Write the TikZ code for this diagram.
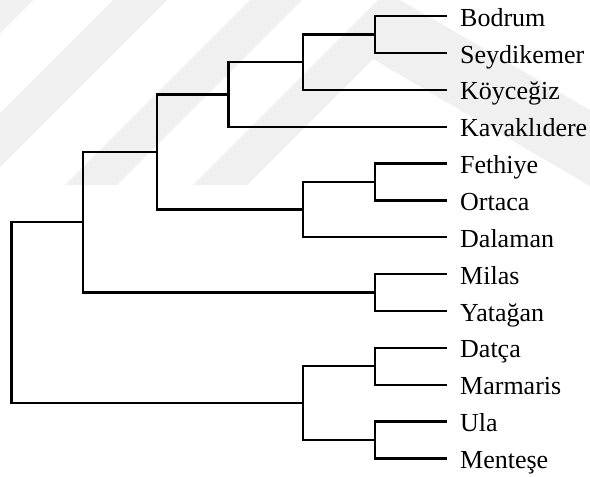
\documentclass[tikz,border=0pt]{standalone}
\usepackage{fontspec}
\setmainfont{Liberation Serif}
\begin{document}
\begin{tikzpicture}[x=1pt,y=-1pt,
  branch/.style={line width=2.3pt,line cap=rect},
  leaflabel/.style={anchor=base west,inner sep=0pt,
    font=\fontsize{26}{31}\selectfont},
  mark band/.style={fill=black!6,draw=none}]
\useasboundingbox (0,0) rectangle (590,477);
\fill[white] (0,0) rectangle (590,477);

% faint diagonal background bands
\fill[mark band] (0,0) -- (33,0) -- (0,33) -- cycle;
\fill[mark band] (113,0) -- (167,0) -- (0,167) -- (0,113) -- cycle;
\fill[mark band] (250,0) -- (302,0) -- (117,185) -- (65,185) -- cycle;
\fill[mark band] (193,185) -- (378,0) -- (400,0) -- (590,110) -- (590,186)
  -- (373,59) -- (247,185) -- cycle;

% leaf ends and labels
\foreach \name/\txt [count=\i from 0] in {
  bod/Bodrum, sey/Seydikemer, koy/Köyceğiz, kav/Kavaklıdere,
  fet/Fethiye, ort/Ortaca, dal/Dalaman, mil/Milas, yat/Yatağan,
  dat/Datça, mar/Marmaris, ula/Ula, men/Menteşe}{
  \coordinate (\name) at (446,16.2+36.85*\i);
  \node[leaflabel] (\name-label) at (460,26.2+36.85*\i) {\txt};
}

% internal joins
\coordinate (bs)    at (375,34.6);
\coordinate (bsk)   at (303,62.0);
\coordinate (bskk)  at (228.5,94.4);
\coordinate (fo)    at (375,182.0);
\coordinate (fod)   at (303,209.5);
\coordinate (upper) at (157,152.0);
\coordinate (my)    at (375,292.6);
\coordinate (north) at (83,222.3);
\coordinate (dm)    at (375,366.3);
\coordinate (um)    at (375,440.0);
\coordinate (south) at (303,403.2);
\coordinate (root)  at (11.5,312.7);

% branches
\draw[branch] (bs) |- (bod);  \draw[branch] (bs) |- (sey);
\draw[branch] (bsk) |- (bs);  \draw[branch] (bsk) |- (koy);
\draw[branch] (bskk) |- (bsk); \draw[branch] (bskk) |- (kav);
\draw[branch] (fo) |- (fet);  \draw[branch] (fo) |- (ort);
\draw[branch] (fod) |- (fo);  \draw[branch] (fod) |- (dal);
\draw[branch] (upper) |- (bskk); \draw[branch] (upper) |- (fod);
\draw[branch] (my) |- (mil);  \draw[branch] (my) |- (yat);
\draw[branch] (north) |- (upper); \draw[branch] (north) |- (my);
\draw[branch] (dm) |- (dat);  \draw[branch] (dm) |- (mar);
\draw[branch] (um) |- (ula);  \draw[branch] (um) |- (men);
\draw[branch] (south) |- (dm); \draw[branch] (south) |- (um);
\draw[branch] (root) |- (north); \draw[branch] (root) |- (south);
\end{tikzpicture}
\end{document}
